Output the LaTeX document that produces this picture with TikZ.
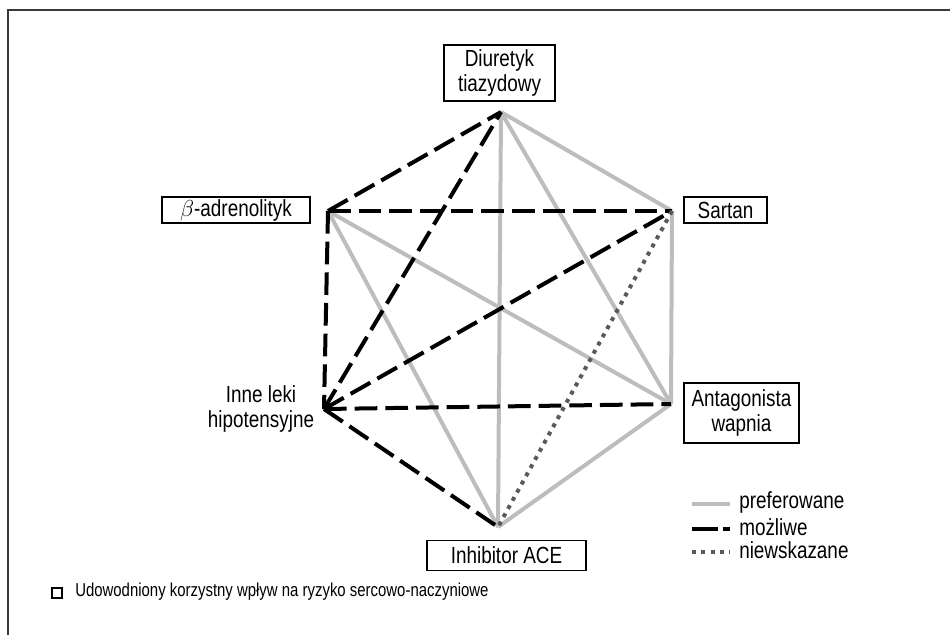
\documentclass[tikz,border=0pt]{standalone}
\usepackage{fontspec}
\setmainfont[FakeStretch=0.81]{Liberation Sans}
\newfontfamily\fnfont[FakeStretch=0.8]{Liberation Sans}
\definecolor{prefgray}{HTML}{BDBDBD}
\definecolor{dotgray}{HTML}{5A5A5A}
\definecolor{framegray}{HTML}{3A3A3A}
\begin{document}
\begin{tikzpicture}[x=0.75pt,y=-0.75pt,
  box/.style={draw,line width=0.9pt,inner sep=0pt,align=center,font=\fontsize{17.5}{18.5}\selectfont},
  lbl/.style={align=center,font=\fontsize{17.5}{19}\selectfont},
  legtxt/.style={anchor=west,inner sep=0pt,font=\fontsize{17.5}{18.5}\selectfont},
  pref/.style={line width=3pt,draw=prefgray},
  poss/.style={line width=3pt,draw=black,dash pattern=on 17pt off 6pt},
  notrec/.style={line width=3pt,draw=dotgray,dash pattern=on 3pt off 4pt},
]
\useasboundingbox (0,0) rectangle (950,635);
\draw[line width=1.5pt,framegray] (950,10) -- (8,10) -- (8,635);

% hexagon vertices
\coordinate (vD) at (501,112);
\coordinate (vB) at (328,211);
\coordinate (vS) at (672,211);
\coordinate (vO) at (324,409);
\coordinate (vA) at (671,404);
\coordinate (vI) at (498,527);

% labels
\node[box,minimum width=83.3pt,minimum height=42pt] (nD) at (499.5,73) {Diuretyk\\tiazydowy};
\node[box,minimum width=111pt,minimum height=19.5pt] (nB) at (236,210) {$\beta$-adrenolityk};
\node[box,minimum width=62.3pt,minimum height=19.5pt] (nS) at (725.5,210) {Sartan};
\node[box,minimum width=86.3pt,minimum height=45pt] (nA) at (741.5,413) {Antagonista\\wapnia};
\node[box,minimum width=119.3pt,minimum height=22.5pt] (nI) at (506.5,555.5) {Inhibitor ACE};
\node[lbl] (nO) at (261,409) {Inne leki\\hipotensyjne};

% preferred
\draw[pref] (vD) -- (vS);
\draw[pref] (vD) -- (vA);
\draw[pref] (vD) -- (vI);
\draw[pref] (vS) -- (vA);
\draw[pref] (vA) -- (vI);
\draw[pref] (vB) -- (vA);
\draw[pref] (vB) -- (vI);

% possible
\draw[poss] (vB) -- (vD);
\draw[poss] (vO) -- (vD);
\draw[poss] (vB) -- (vS);
\draw[poss] (vB) -- (vO);
\draw[poss] (vO) -- (vS);
\draw[poss] (vO) -- (vA);
\draw[poss] (vO) -- (vI);

% not recommended
\draw[notrec] (vS) -- (vI);

% legend
\coordinate (l1a) at (692,504); \coordinate (l1b) at (730,504);
\coordinate (l2a) at (692,529); \coordinate (l2b) at (730,529);
\coordinate (l3a) at (692,552); \coordinate (l3b) at (730,552);
\draw[pref] (l1a) -- (l1b);
\draw[line width=3pt,black,dash pattern=on 19.5pt off 4pt] (l2a) -- (l2b);
\draw[notrec] (l3a) -- (l3b);
\node[legtxt] (t1) at (739,502) {preferowane};
\node[legtxt] (t2) at (739,527) {możliwe};
\node[legtxt] (t3) at (739,550) {niewskazane};

% footnote
\node[draw,line width=0.8pt,minimum size=7.5pt,inner sep=0pt] (sq) at (57,593) {};
\node[anchor=west,inner sep=0pt,font=\fnfont\fontsize{14}{16}\selectfont] (fn) at (75,592) {Udowodniony korzystny wpływ na ryzyko sercowo-naczyniowe};
\end{tikzpicture}
\end{document}
